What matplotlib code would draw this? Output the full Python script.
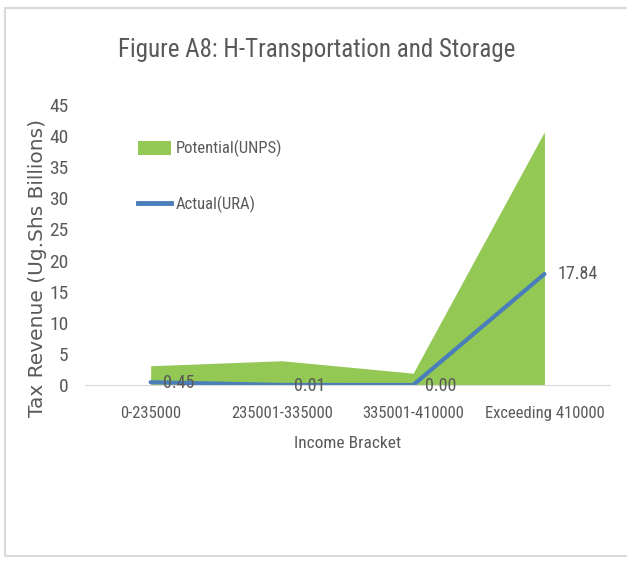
import matplotlib.pyplot as plt
from matplotlib.patches import Rectangle, Patch
from matplotlib.lines import Line2D

# data
brackets = ["0-235000", "235001-335000", "335001-410000", "Exceeding 410000"]
potential = [3.1, 3.9, 1.9, 40.7]
actual = [0.45, 0.01, 0.00, 17.84]
actual_labels = ["0.45", "0.01", "0.00", "17.84"]

grey = "#595959"
green = "#92c853"
blue = "#4a7ebb"
narrow = ["Roboto Condensed", "PT Sans Narrow", "DejaVu Sans"]

fig = plt.figure(figsize=(6.27, 5.61), dpi=100)
ax = fig.add_axes([0.1356, 0.3137, 0.8374, 0.4991])

x = list(range(len(brackets)))
ax.fill_between(x, potential, 0, color=green, linewidth=0)
ax.plot(x, actual, color=blue, linewidth=3, solid_capstyle="round")

# data labels for the actual series
for xi, yi, lab in zip(x, actual, actual_labels):
    if xi == len(x) - 1:
        ax.text(xi + 0.1, yi, lab, ha="left", va="center", fontsize=13,
                color=grey, family=narrow)
    else:
        ax.text(xi + 0.21, yi - 0.2, lab, ha="center", va="center", fontsize=13,
                color=grey, family=narrow)

ax.set_xlim(-0.5, len(brackets) - 0.5)
ax.set_ylim(0, 45)
ax.set_yticks(range(0, 46, 5))
ax.set_xticks(x)
ax.set_xticklabels(brackets, family=narrow, fontsize=12, color=grey)
for lab in ax.get_yticklabels():
    lab.set_family(narrow)
    lab.set_fontsize(14)
    lab.set_color(grey)
ax.tick_params(axis="both", length=0)
ax.tick_params(axis="x", pad=15)
ax.tick_params(axis="y", pad=12)

for side in ["top", "right", "left"]:
    ax.spines[side].set_visible(False)
ax.spines["bottom"].set_color("#d9d9d9")

ax.set_xlabel("Income Bracket", family=narrow, fontsize=12.5, color=grey, labelpad=11)
ax.set_ylabel("Tax Revenue (Ug.Shs Billions)", family="DejaVu Sans",
              fontsize=14.5, color=grey)
ax.yaxis.set_label_coords(-0.073, 0.418)

handles = [Patch(facecolor=green, edgecolor="none"),
           Line2D([0], [0], color=blue, linewidth=3.5)]
leg = ax.legend(handles, ["Potential(UNPS)", "Actual(URA)"], loc="upper left",
                bbox_to_anchor=(0.085, 0.905), frameon=False, labelspacing=2.3,
                handlelength=2.0, handleheight=0.9, handletextpad=0.25,
                borderpad=0, prop={"family": narrow, "size": 12})
for t in leg.get_texts():
    t.set_color(grey)

fig.text(0.505, 0.91, "Figure A8: H-Transportation and Storage", ha="center",
         va="center", fontsize=18, color=grey, family=narrow)

# outer chart border (open on the right)
fig.patches.append(Rectangle((5 / 627, 5 / 561), 1.05, 548 / 561,
                             transform=fig.transFigure, fill=False,
                             edgecolor="#d9d9d9", linewidth=1.5))

fig.savefig("out.png", dpi=100)
